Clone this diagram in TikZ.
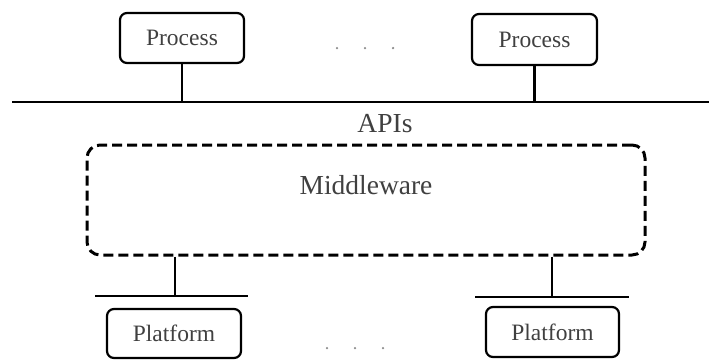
\documentclass[tikz,border=0pt]{standalone}
\usepackage{fontspec}
\setmainfont{Liberation Serif}
\begin{document}
\begin{tikzpicture}[x=1pt,y=-1pt,
  procbox/.style={draw=black, line width=2.2pt, rounded corners=7pt, fill=white,
    inner sep=0pt, text=black!75, font=\fontsize{23.5}{26}\selectfont},
  bigtext/.style={inner sep=0pt, text=black!75, font=\fontsize{27.5}{30}\selectfont},
  busline/.style={draw=black, line width=2.6pt},
  link/.style={draw=black, line width=2.2pt},
  mwbox/.style={draw=black, line width=3pt, dash pattern=on 10pt off 5pt,
    rounded corners=13pt, inner sep=0pt},
  gap/.style={fill=black!45, circle, inner sep=0pt, minimum size=2.5pt}
]
\useasboundingbox (0,0) rectangle (709,360);

% processes on the API bus
\node[procbox, minimum width=124, minimum height=50] (p1) at (182,38) {Process};
\node[procbox, minimum width=125, minimum height=51] (p2) at (534.5,39.5) {Process};
\foreach \i/\x in {1/337,2/365,3/393} \node[gap] (td\i) at (\x,48) {};

\coordinate (busW) at (12,102);
\coordinate (busE) at (709,102);
\draw[busline] (busW) -- (busE);
\draw[link] (p1.south) -- (p1.south |- busW);
\draw[link] (p2.south) -- (p2.south |- busW);

\node[bigtext] (api) at (385,124) {APIs};

% middleware layer
\node[mwbox, minimum width=558, minimum height=110] (mw) at (366,200) {};
\node[bigtext] (mwt) at (366,185) {Middleware};

% platforms below
\node[procbox, minimum width=134, minimum height=49] (q1) at (174,333.5) {Platform};
\node[procbox, minimum width=133, minimum height=50] (q2) at (552.5,332) {Platform};
\foreach \i/\x in {1/327,2/355,3/383} \node[gap] (bd\i) at (\x,348) {};

\coordinate (lbW) at (95,296);
\coordinate (lbE) at (248,296);
\coordinate (rbW) at (475,297);
\coordinate (rbE) at (629,297);
\draw[link] (lbW) -- (lbE);
\draw[link] (rbW) -- (rbE);
\draw[link] (mw.south -| 175,0) -- (lbW -| 175,0);
\draw[link] (mw.south -| 552,0) -- (rbW -| 552,0);
\end{tikzpicture}
\end{document}
